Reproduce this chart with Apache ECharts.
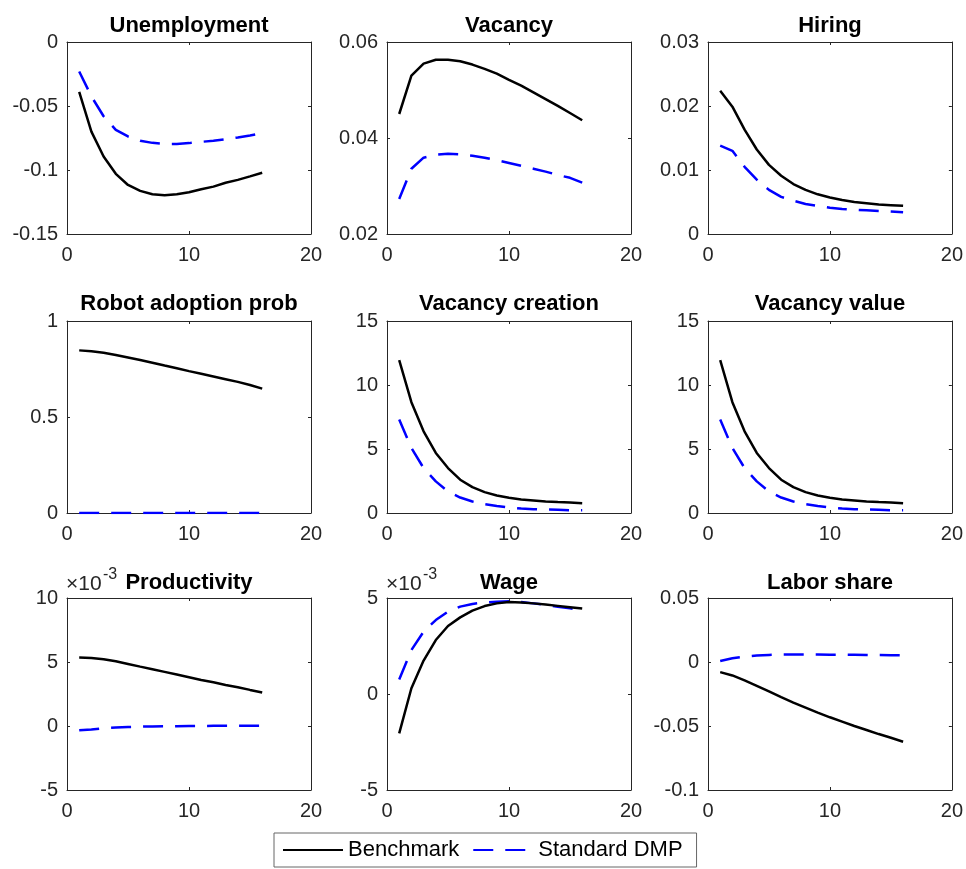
<!DOCTYPE html>
<html>
<head>
<meta charset="utf-8">
<script src="https://cdn.jsdelivr.net/npm/echarts@6/dist/echarts.min.js"></script>
<style>
html,body{margin:0;padding:0;background:#fff;}
#chart{width:966px;height:869px;}
</style>
</head>
<body>
<div id="chart"></div>
<script>
// ---- data ----
const periods = [1,2,3,4,5,6,7,8,9,10,11,12,13,14,15,16];
const seriesNames = ['Benchmark', 'Standard DMP'];
const panelTitles = ['Unemployment','Vacancy','Hiring','Robot adoption prob','Vacancy creation','Vacancy value','Productivity','Wage','Labor share'];
const xTicks = [0, 20, 10]; // min, max, interval

const unempBench = [-0.039,-0.070,-0.0895,-0.103,-0.1117,-0.1163,-0.119,-0.1197,-0.119,-0.1174,-0.115,-0.113,-0.110,-0.1077,-0.105,-0.1022];
const unempDMP   = [-0.023,-0.0425,-0.058,-0.0686,-0.0738,-0.0772,-0.0788,-0.0796,-0.0796,-0.079,-0.078,-0.0772,-0.076,-0.0746,-0.073,-0.0712];

const vacBench = [0.0450,0.0530,0.0555,0.0563,0.0563,0.0560,0.0553,0.0544,0.0534,0.0521,0.0509,0.0495,0.0481,0.0467,0.0452,0.0437];
const vacDMP   = [0.0273,0.0336,0.0359,0.0365,0.0367,0.0366,0.0363,0.0359,0.0354,0.0348,0.0342,0.0336,0.0330,0.0323,0.0317,0.0307];

const hireBench = [0.0224,0.0199,0.0163,0.0132,0.0108,0.0091,0.0078,0.0069,0.0062,0.0057,0.0053,0.0050,0.0048,0.0046,0.0045,0.0044];
const hireDMP   = [0.0138,0.0130,0.0105,0.0085,0.0069,0.0058,0.0052,0.0047,0.0044,0.0041,0.0039,0.0038,0.0037,0.0036,0.0035,0.0034];

const robotBench = [0.847,0.843,0.835,0.823,0.810,0.797,0.783,0.768,0.754,0.739,0.725,0.711,0.697,0.683,0.667,0.648];
const robotDMP   = [0,0,0,0,0,0,0,0,0,0,0,0,0,0,0,0];

const vcBench = [11.95,8.66,6.38,4.69,3.51,2.60,2.02,1.63,1.37,1.19,1.06,0.98,0.90,0.85,0.82,0.77];
const vcDMP   = [7.30,5.08,3.51,2.47,1.68,1.21,0.90,0.69,0.54,0.43,0.35,0.30,0.27,0.25,0.22,0.22];

const vvBench = [11.95,8.66,6.38,4.69,3.51,2.60,2.02,1.63,1.37,1.19,1.06,0.98,0.90,0.85,0.82,0.77];
const vvDMP   = [7.30,5.08,3.51,2.47,1.68,1.21,0.90,0.69,0.54,0.43,0.35,0.30,0.27,0.25,0.22,0.22];

const prodBench = [0.00535,0.00532,0.00522,0.00506,0.00485,0.00464,0.00444,0.00423,0.00402,0.00381,0.00360,0.00342,0.00321,0.00303,0.00282,0.00262];
const prodDMP   = [-0.00034,-0.00027,-0.00018,-0.00012,-0.00008,-0.00005,-0.00003,-0.00002,-0.00001,0,0,0.00001,0.00001,0.00001,0.00001,0.00001];

const wageBench = [-0.00205,0.00030,0.00174,0.00281,0.00354,0.00399,0.00434,0.00458,0.00472,0.00479,0.00477,0.00472,0.00466,0.00459,0.00452,0.00445];
const wageDMP   = [0.00076,0.00229,0.00325,0.00385,0.00429,0.00455,0.00469,0.00477,0.00481,0.00483,0.00479,0.00472,0.00464,0.00455,0.00446,0.00437];

const laborBench = [-0.0079,-0.0105,-0.0144,-0.0186,-0.0230,-0.0275,-0.0317,-0.0356,-0.0395,-0.0432,-0.0466,-0.0500,-0.0531,-0.0563,-0.0592,-0.0623];
const laborDMP   = [0.0008,0.0029,0.0042,0.0050,0.0055,0.0058,0.0058,0.0058,0.0058,0.0057,0.0057,0.0056,0.0055,0.0054,0.0053,0.0052];

// y-axis ticks per panel: [min, max, interval]
const yTicks = [
  [-0.15, 0, 0.05], [0.02, 0.06, 0.02], [0, 0.03, 0.01],
  [0, 1, 0.5], [0, 15, 5], [0, 15, 5],
  [-0.005, 0.01, 0.005], [-0.005, 0.005, 0.005], [-0.1, 0.05, 0.05]
];
const yExponent = [0,0,0,0,0,0,-3,-3,0];
const benchData = [unempBench, vacBench, hireBench, robotBench, vcBench, vvBench, prodBench, wageBench, laborBench];
const dmpData   = [unempDMP, vacDMP, hireDMP, robotDMP, vcDMP, vvDMP, prodDMP, wageDMP, laborDMP];

// ---- layout ----
const colLeft = [67, 387, 708];
const rowTop = [42, 321, 598];
const gw = 244, gh = 192;
const titleTop = [15, 293, 572];
const FONT = "'Liberation Sans', Arial, Helvetica, sans-serif";
const AX = '#262626';

const grids = [], xAxes = [], yAxes = [], series = [], titles = [];
function fmt(v, e) {
  const s = v / Math.pow(10, e);
  return String(parseFloat(s.toPrecision(10)));
}
for (let i = 0; i < 9; i++) {
  const r = Math.floor(i / 3), c = i % 3;
  grids.push({left: colLeft[c], top: rowTop[r], width: gw, height: gh, containLabel: false});
  const axLine = {show: true, onZero: false, lineStyle: {color: AX, width: 1}};
  const tick = {show: true, inside: true, length: 3, lineStyle: {color: AX, width: 1}};
  const lab = {show: true, color: AX, fontSize: 20, fontFamily: FONT};
  xAxes.push({type: 'value', gridIndex: i, position: 'bottom', min: xTicks[0], max: xTicks[1], interval: xTicks[2],
    axisLine: axLine, axisTick: tick, splitLine: {show: false},
    axisLabel: Object.assign({}, lab, {margin: 11, showMinLabel: true, showMaxLabel: true})});
  xAxes.push({type: 'value', gridIndex: i, position: 'top', min: xTicks[0], max: xTicks[1], interval: xTicks[2],
    axisLine: axLine, axisTick: tick, splitLine: {show: false}, axisLabel: {show: false}});
  const yt = yTicks[i], e = yExponent[i];
  yAxes.push({type: 'value', gridIndex: i, position: 'left', min: yt[0], max: yt[1], interval: yt[2],
    axisLine: axLine, axisTick: tick, splitLine: {show: false},
    axisLabel: Object.assign({}, lab, {margin: 9, showMinLabel: true, showMaxLabel: true, formatter: (v) => fmt(v, e)})});
  yAxes.push({type: 'value', gridIndex: i, position: 'right', min: yt[0], max: yt[1], interval: yt[2],
    axisLine: axLine, axisTick: tick, splitLine: {show: false}, axisLabel: {show: false}});

  series.push({name: seriesNames[0], type: 'line', xAxisIndex: 2 * i, yAxisIndex: 2 * i,
    data: periods.map((p, k) => [p, benchData[i][k]]), symbol: 'none', showSymbol: false, smooth: false,
    lineStyle: {color: '#000000', width: 2.5, type: 'solid'}, itemStyle: {color: '#000000'}, z: 3});
  series.push({name: seriesNames[1], type: 'line', xAxisIndex: 2 * i, yAxisIndex: 2 * i,
    data: periods.map((p, k) => [p, dmpData[i][k]]), symbol: 'none', showSymbol: false, smooth: false,
    lineStyle: {color: '#0000ff', width: 2.5, type: [20, 12]}, itemStyle: {color: '#0000ff'}, z: 2});

  titles.push({text: panelTitles[i], left: colLeft[c] + gw / 2, top: titleTop[r], textAlign: 'center', padding: 0,
    textStyle: {fontSize: 22, fontWeight: 'bold', color: '#000', fontFamily: FONT}});
  if (e !== 0) {
    titles.push({text: '×10', left: colLeft[c] - 1, top: 574, textAlign: 'left', padding: 0,
      textStyle: {fontSize: 21, fontWeight: 'normal', color: AX, fontFamily: FONT}});
    titles.push({text: String(e), left: colLeft[c] + 36, top: 567, textAlign: 'left', padding: 0,
      textStyle: {fontSize: 16, fontWeight: 'normal', color: AX, fontFamily: FONT}});
  }
}

const chart = echarts.init(document.getElementById('chart'), null, {renderer: 'canvas'});
chart.setOption({
  animation: false,
  backgroundColor: '#ffffff',
  title: titles,
  grid: grids,
  xAxis: xAxes,
  yAxis: yAxes,
  legend: {
    data: seriesNames, left: 274, top: 833, orient: 'horizontal',
    itemWidth: 60, itemHeight: 14, itemGap: 13,
    padding: [6, 14, 6, 8],
    borderColor: '#666', borderWidth: 1, backgroundColor: '#fff',
    itemStyle: {opacity: 0, borderWidth: 0},
    textStyle: {fontSize: 22, color: '#000', fontFamily: FONT},
    selectedMode: false
  },
  series: series
});
</script>
</body>
</html>
